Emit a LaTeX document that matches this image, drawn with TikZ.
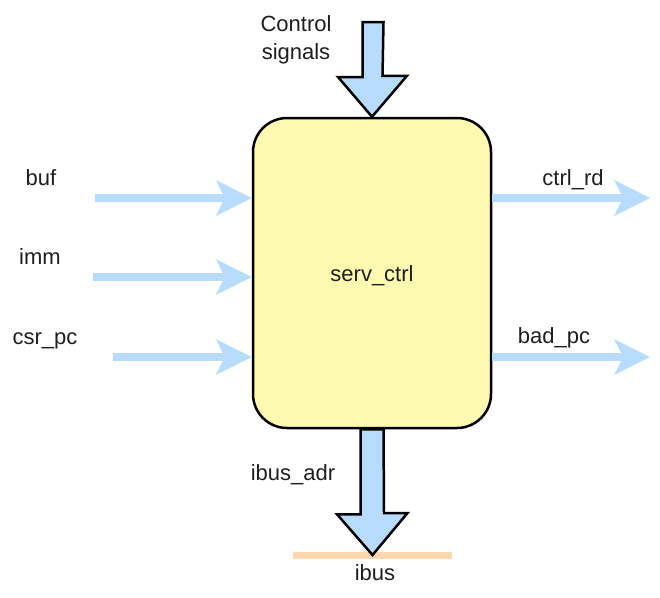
\documentclass[tikz,border=0pt]{standalone}
\usepackage{fontspec}
\setmainfont{Liberation Sans}
\usetikzlibrary{arrows.meta,calc}
\definecolor{sigblue}{RGB}{184,220,255}
\definecolor{boxyellow}{RGB}{255,250,175}
\definecolor{busorange}{RGB}{255,216,176}
\definecolor{txt}{RGB}{30,30,30}
\tikzset{
  x=1pt,y=1pt,
  lbl/.style={font=\fontsize{22}{28}\selectfont, text=txt, inner sep=0pt, anchor=base},
  block/.style={draw=black, line width=2.5pt, fill=boxyellow, rounded corners=34pt,
    minimum width=238pt, minimum height=310pt, inner sep=0pt},
  sig/.style={draw=sigblue, line width=8pt,
    -{Stealth[length=36pt,width=36pt,inset=9pt,line width=0pt]}},
  fat/.style={draw=black, line width=2.5pt, fill=sigblue, line join=miter},
  bus/.style={draw=busorange, line width=7pt}
}
\begin{document}
\begin{tikzpicture}
\useasboundingbox (0,0) rectangle (660,-597);

% controller block
\node[block] (ctrl) at (372,-273) {};
\node[lbl] (name) at (372,-281) {serv\_ctrl};

% inputs
\coordinate (bufsrc) at (95,-198);
\coordinate (immsrc) at (93,-277);
\coordinate (pcsrc) at (113,-357);
\draw[sig] (bufsrc) -- (ctrl.west |- bufsrc);
\draw[sig] (immsrc) -- (ctrl.west |- immsrc);
\draw[sig] (pcsrc) -- (ctrl.west |- pcsrc);
\node[lbl] (buflbl) at (41,-185) {buf};
\node[lbl] (immlbl) at (40,-264) {imm};
\node[lbl] (pclbl) at (45,-344) {csr\_pc};

% outputs
\coordinate (rddst) at (650,-198);
\coordinate (baddst) at (650,-357);
\draw[sig] (ctrl.east |- rddst) -- (rddst);
\draw[sig] (ctrl.east |- baddst) -- (baddst);
\node[lbl] (rdlbl) at (573,-185) {ctrl\_rd};
\node[lbl] (badlbl) at (554,-343) {bad\_pc};

% control signals entering from above
\coordinate (csrc) at (373,-22);
\draw[fat] ([xshift=-10.5pt]csrc) -- ++(0,-55) -- ++(-24.5,0) -- (ctrl.north)
  -- ++(35,41) -- ++(-24.5,0) -- ([xshift=10.5pt]csrc) -- cycle;
\node[lbl, align=center, anchor=north] (ctllbl) at (296,-15) {Control\\signals};

% instruction bus below
\coordinate (busl) at (293,-555);
\coordinate (busr) at (452,-555);
\coordinate (bustip) at (372.5,-555);
\draw[bus] (busl) -- (busr);
\draw[fat] ([xshift=-11.5pt]ctrl.south) -- ++(0,-85) -- ++(-23.5,0) -- (bustip)
  -- ++(35,42) -- ++(-23.5,0) -- ([xshift=11.5pt]ctrl.south) -- cycle;
\node[lbl] (adrlbl) at (293,-480) {ibus\_adr};
\node[lbl] (buslbl) at (375,-580) {ibus};
\end{tikzpicture}
\end{document}
